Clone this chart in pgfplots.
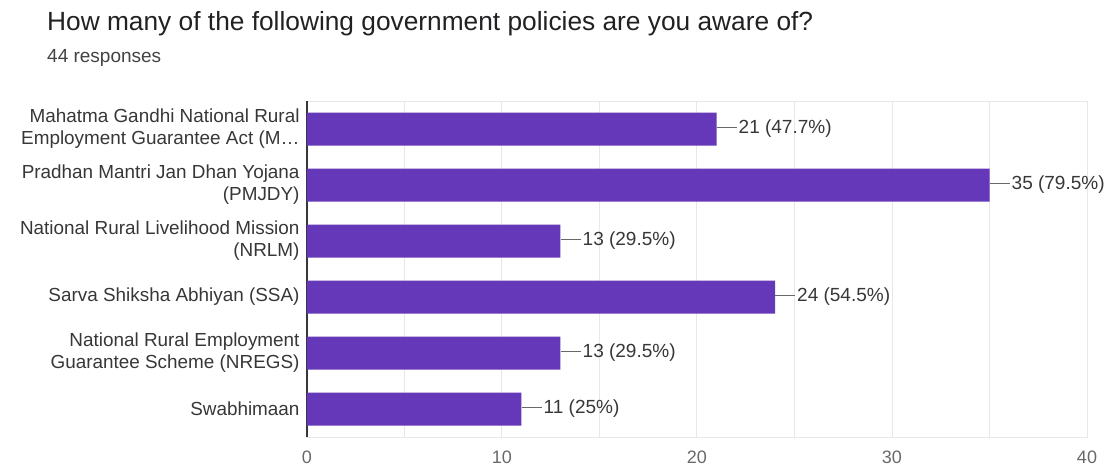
\documentclass[border=0pt]{standalone}
\usepackage{pgfplots}
\pgfplotsset{compat=1.18}
\usepackage{fontspec}
\setmainfont{Liberation Sans}
\definecolor{barc}{RGB}{101,55,185}
\definecolor{labc}{RGB}{55,55,55}
\definecolor{tickc}{RGB}{105,105,105}
\definecolor{gridc}{RGB}{232,232,232}
\definecolor{titc}{RGB}{33,33,36}
\begin{document}
\begin{tikzpicture}
\begin{axis}[
  scale only axis, width=780pt, height=336pt,
  xbar, bar width=33pt,
  xmin=0, xmax=40, ymin=-0.5, ymax=5.5, y dir=reverse,
  xtick={0,10,20,30,40},
  minor xtick={5,15,25,35},
  xmajorgrids, xminorgrids,
  major grid style={gridc, line width=1pt},
  minor grid style={gridc, line width=1pt},
  extra x ticks={0}, extra x tick labels={},
  extra x tick style={major grid style={labc, line width=1.4pt}},
  ytick={0,1,2,3,4,5},
  yticklabels={
    {Mahatma Gandhi National Rural\\Employment Guarantee Act (M\ldots},
    {Pradhan Mantri Jan Dhan Yojana\\(PMJDY)},
    {National Rural Livelihood Mission\\(NRLM)},
    {Sarva Shiksha Abhiyan (SSA)},
    {National Rural Employment\\Guarantee Scheme (NREGS)},
    {Swabhimaan}},
  yticklabel style={align=right, font=\fontsize{18.9}{22}\selectfont, text=labc, inner xsep=3pt},
  xticklabel style={font=\fontsize{18}{20}\selectfont, text=tickc, yshift=-10pt},
  /pgf/number format/assume math mode=true,
  tick style={draw=none},
  axis line style={gridc, line width=1pt},
  point meta=explicit symbolic,
  nodes near coords={\textcolor{tickc}{\rule[0.33em]{20pt}{0.9pt}}\hspace{2pt}\pgfplotspointmeta},
  nodes near coords align={horizontal},
  every node near coord/.style={anchor=west, inner xsep=0pt, font=\fontsize{19}{22}\selectfont, text=labc},
  clip=false,
]
\addplot[draw=none, fill=barc] coordinates {
  (21,0) [21 (47.7\%)]
  (35,1) [35 (79.5\%)]
  (13,2) [13 (29.5\%)]
  (24,3) [24 (54.5\%)]
  (13,4) [13 (29.5\%)]
  (11,5) [11 (25\%)]
};
\coordinate (O) at (axis description cs:0,0);
\end{axis}
\node[anchor=base west, inner sep=0, font=\fontsize{26.3}{30}\selectfont, text=titc] at ([shift={(-260pt,406pt)}]O) {How many of the following government policies are you aware of?};
\node[anchor=base west, inner sep=0, font=\fontsize{19}{22}\selectfont, text=titc!85] at ([shift={(-260pt,374pt)}]O) {44 responses};
\pgfresetboundingbox
\useasboundingbox ([shift={(-307pt,-31pt)}]O) rectangle ++(1111pt,468pt);
\end{tikzpicture}
\end{document}
